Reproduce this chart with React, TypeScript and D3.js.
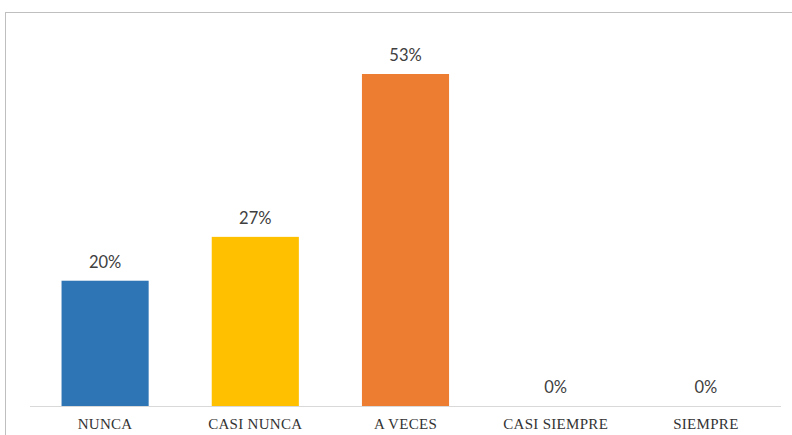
import React from "react";
import * as d3 from "d3";

const categories = ["NUNCA", "CASI NUNCA", "A VECES", "CASI SIEMPRE", "SIEMPRE"];
const values = [20, 27, 53, 0, 0];
const colors = ["#2E75B6", "#FFC000", "#ED7D31", "#A5A5A5", "#5B9BD5"];

export default function App() {
  const W = 792, H = 435;
  const x = d3.scaleBand<string>().domain(categories).range([30, 781]).paddingInner(0.42).paddingOuter(0.21);
  const y = d3.scaleLinear().domain([0, 53]).range([406, 74]);
  return (
    <svg width={W} height={H} style={{ position: "absolute", left: 0, top: 0, background: "#fff" }}>
      <rect x={5.5} y={12.5} width={W + 10} height={H + 10} fill="#fff" stroke="#BFBFBF" strokeWidth={1} />
      {categories.map((c, i) => (
        <rect key={c} x={x(c)} y={y(values[i])} width={x.bandwidth()} height={406 - y(values[i])} fill={colors[i]} />
      ))}
      <line x1={30} x2={781} y1={406.5} y2={406.5} stroke="#D9D9D9" strokeWidth={1} />
      {categories.map((c, i) => (
        <text key={"v" + c} x={(x(c) as number) + x.bandwidth() / 2} y={y(values[i]) - 13} textAnchor="middle"
          fontFamily="Lato, 'Open Sans', sans-serif" fontSize={16.5} fill="#404040">{values[i]}%</text>
      ))}
      {categories.map((c) => (
        <text key={"c" + c} x={(x(c) as number) + x.bandwidth() / 2} y={429} textAnchor="middle"
          fontFamily="'Liberation Serif', serif" fontSize={15} letterSpacing={0.3} fill="#333333">{c}</text>
      ))}
    </svg>
  );
}
